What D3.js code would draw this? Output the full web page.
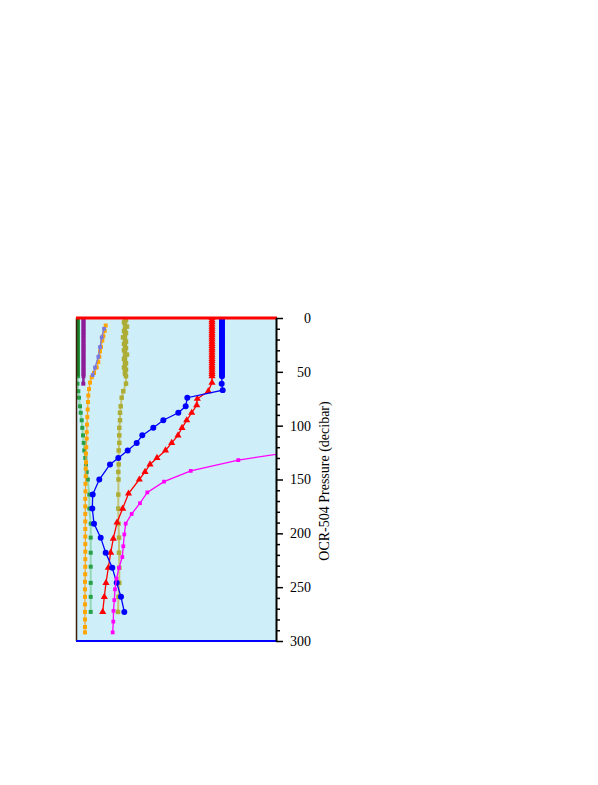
<!DOCTYPE html>
<html><head><meta charset="utf-8">
<script src="https://cdn.jsdelivr.net/npm/d3@7"></script>
<style>body{margin:0;background:#fff}svg{display:block}</style>
</head><body>
<svg id="chart" width="598" height="785"></svg>
<script>
// Pressure (decibar) axis ticks
const majorTicks = [0, 50, 100, 150, 200, 250, 300];
const minorTicks = [10,20,30,40,60,70,80,90,110,120,130,140,160,170,180,190,210,220,230,240,260,270,280,290];

// dense near-surface sampling (decibar)
const denseP = [0,2,4,6,8,10,12,14,16,18,20,22,24,26,28,30,32,34,36,38,40,42,44,46,48,50,52,54];

// green series
const greenDenseX = [2,2,2,2,2,2,2,2,2,2,2,2,2,2,2,2,2,2,2,2,2,2,2,2,2,2,2,2];
const greenP = [61,68,74,82,88,95,102,109,116,123,130,136,143,150,164,177,191,204,218,231,246,259,273];
const greenX = [1.5,2.3,3,4,4.7,5.7,6.3,7,7.7,8.3,9.3,10,10.7,11.8,13.3,13.3,14.7,14.7,14.7,14.7,14.7,14.7,14.7];

// purple series
const purpleDenseX = [7.5,7.5,7.5,7.5,7.5,7.5,7.5,7.5,7.5,7.5,7.5,7.5,7.5,7.5,7.5,7.5,7.5,7.5,7.5,7.5,7.5,7.5,7.5,7.5,7.5,7.5,7.5,7.5];
const purpleP = [61];
const purpleX = [7.3];

// orange series
const orangeP = [7,12,17,21,27,31,36,41,46,51,55,60,66,72,78,85,92,99,106,112,120,126,134,140,147,
  154,161,168,175,182,189,196,203,210,217,224,231,238,245,252,259,266,273,280,287,292];
const orangeX = [29.7,28.7,27.3,26.3,25,24,23.3,22.3,20.7,18,15.7,14,13,12.3,12,11.7,11.3,11,10.7,10.7,10.3,10,10,9.7,9.7,
  9.5,9.5,9.3,9.3,9.3,9.3,9.3,9.3,9.3,9.3,9.3,9.3,9.2,9,9,9,9,9,9,9,9];

// slate-blue series
const slateP = [10,18,27,36,46,53];
const slateX = [28,25.7,24,22.3,19,16.7];

// olive series
const oliveDenseX = [49,50,48,49,51,49,48,50,49,47,49,50,48,49,50,48,49,51,49,48,49,50,49,48,50,49,49,50];
const oliveP = [61,68,74,82,88,95,102,109,116,123,130,136,143,150,164,177,191,204,218,232,246,259,273];
const oliveX = [50,47.3,45.7,44.7,44,44,43.3,43.3,43.3,42.7,42.7,42.7,42.3,42.5,42.3,42.3,42.5,43,43,43.3,43.3,42.5,42];

// red series
const redDenseX = [136,136,136,136,136,136,136,136,136,136,136,136,136,136,136,136,136,136,136,136,136,136,136,136,136,136,136,136];
const redP = [60,68,75,81,88,95,102,109,116,123,130,136,143,150,163,177,190,205,218,232,246,259,273];
const redX = [136,132.3,121.3,120.7,115.7,110.7,106,102,95.7,89.5,81,74,69,63.3,52.5,46.7,41,37.3,34.7,32.3,30,28.3,26.7];

// blue series
const blueDenseX = [146,146,146,146,146,146,146,146,146,146,146,146,146,146,146,146,146,146,146,146,146,146,146,146,146,146,146,146];
const blueP = [61,67,74,82,88,95,102,109,116,123,130,136,150,164,177,191,204,218,232,246,259,273];
const blueX = [145.7,146.7,111.3,109.7,102.3,87.3,77.3,66.3,60.7,51.7,42.3,34,23.3,16.7,16.3,18,24.7,29.7,36.3,40.7,45,48.3];

// magenta series
const magentaP = [122,132,142,152,162,172,182,191,201,212,222,232,242,252,262,272,282,292];
const magentaX = [232,162.3,114.7,88,71.3,64,55.7,49.7,48.3,47.3,46.3,43,40.5,39,38.3,37.5,37.3,36.7];

const svg = d3.select("#chart");
const x = d3.scaleLinear().domain([0, 200]).range([76, 276]);
const y = d3.scaleLinear().domain([0, 300]).range([318, 641]);

svg.append("defs").append("clipPath").attr("id","clip")
  .append("rect").attr("x",76).attr("y",318).attr("width",200).attr("height",323);

svg.append("rect").attr("x",76).attr("y",318).attr("width",200).attr("height",323).attr("fill","#ceeef9");

const g = svg.append("g").attr("clip-path","url(#clip)");
const zip = (P, X) => P.map((p,i)=>({p, x:X[i]}));
const line = d3.line().x(d=>x(d.x)).y(d=>y(d.p));

function drawSeries(pts, opt){
  if (opt.line) g.append("path").datum(pts).attr("d", line).attr("fill","none")
      .attr("stroke", opt.line).attr("stroke-width", opt.lw || 1.3);
  const sym = d3.symbol().type(opt.shape).size(opt.size);
  g.selectAll(null).data(pts).enter().append("path")
    .attr("d", sym).attr("transform", d=>`translate(${x(d.x)},${y(d.p)})`)
    .attr("fill", opt.color);
}

// green
drawSeries(zip(denseP, greenDenseX).concat(zip(greenP, greenX)), {line:"#93d8b4", lw:2, color:"#27a046", shape:d3.symbolSquare, size:16});
g.append("path").datum(zip(denseP, greenDenseX)).attr("d", line).attr("stroke","#1f7a2a").attr("stroke-width",2.5).attr("fill","none");
// purple
drawSeries(zip(denseP, purpleDenseX).concat(zip(purpleP, purpleX)), {line:"#8e1c98", lw:2.5, color:"#8e1c98", shape:d3.symbolSquare, size:16});
// orange
drawSeries(zip(orangeP, orangeX), {line:"#f0a838", lw:1.3, color:"#ffa500", shape:d3.symbolSquare, size:16});
// slate blue
drawSeries(zip(slateP, slateX), {line:"#7878e0", lw:1.3, color:"#7878e0", shape:d3.symbolSquare, size:14});
// olive
drawSeries(zip(denseP, oliveDenseX).concat(zip(oliveP, oliveX)), {line:"#c4c478", lw:2, color:"#adad35", shape:d3.symbolSquare, size:20});
// red
drawSeries(zip(denseP, redDenseX).concat(zip(redP, redX)), {line:"#ff0000", lw:1.3, color:"#ff0000", shape:d3.symbolTriangle, size:22});
// blue
drawSeries(zip(denseP, blueDenseX).concat(zip(blueP, blueX)), {line:"#0000ff", lw:1.3, color:"#0000ff", shape:d3.symbolCircle, size:28});
// magenta
drawSeries(zip(magentaP, magentaX), {line:"#ff00ff", lw:1.3, color:"#ff00ff", shape:d3.symbolSquare, size:14});

// frame
svg.append("line").attr("x1",76.5).attr("x2",76.5).attr("y1",318).attr("y2",641).attr("stroke","#3a1e08").attr("stroke-width",1.5);
svg.append("line").attr("x1",76).attr("x2",276).attr("y1",641).attr("y2",641).attr("stroke","#0000ff").attr("stroke-width",2);
svg.append("line").attr("x1",76).attr("x2",277).attr("y1",318).attr("y2",318).attr("stroke","#ff0000").attr("stroke-width",3);

// right axis
const axG = svg.append("g").attr("transform","translate(276,0)");
axG.append("g").call(d3.axisRight(y).tickValues(minorTicks).tickSize(4).tickFormat(""))
  .call(s=>s.select(".domain").remove())
  .selectAll("line").attr("stroke","#000").attr("stroke-width",1.5);
const major = axG.append("g").call(d3.axisRight(y).tickValues(majorTicks).tickSize(7).tickSizeOuter(0));
major.select(".domain").attr("stroke","#000").attr("stroke-width",2);
major.selectAll("line").attr("stroke","#000").attr("stroke-width",1.5);
major.selectAll("text").attr("x",35).attr("text-anchor","end")
  .attr("font-family","'Liberation Serif', 'Times New Roman', serif").attr("font-size",14).attr("fill","#000");

svg.append("text").attr("transform","translate(329,481) rotate(-90)").attr("text-anchor","middle")
  .attr("font-family","'Liberation Serif', 'Times New Roman', serif").attr("font-size",14).attr("fill","#000")
  .text("OCR-504 Pressure (decibar)");
</script>
</body></html>
